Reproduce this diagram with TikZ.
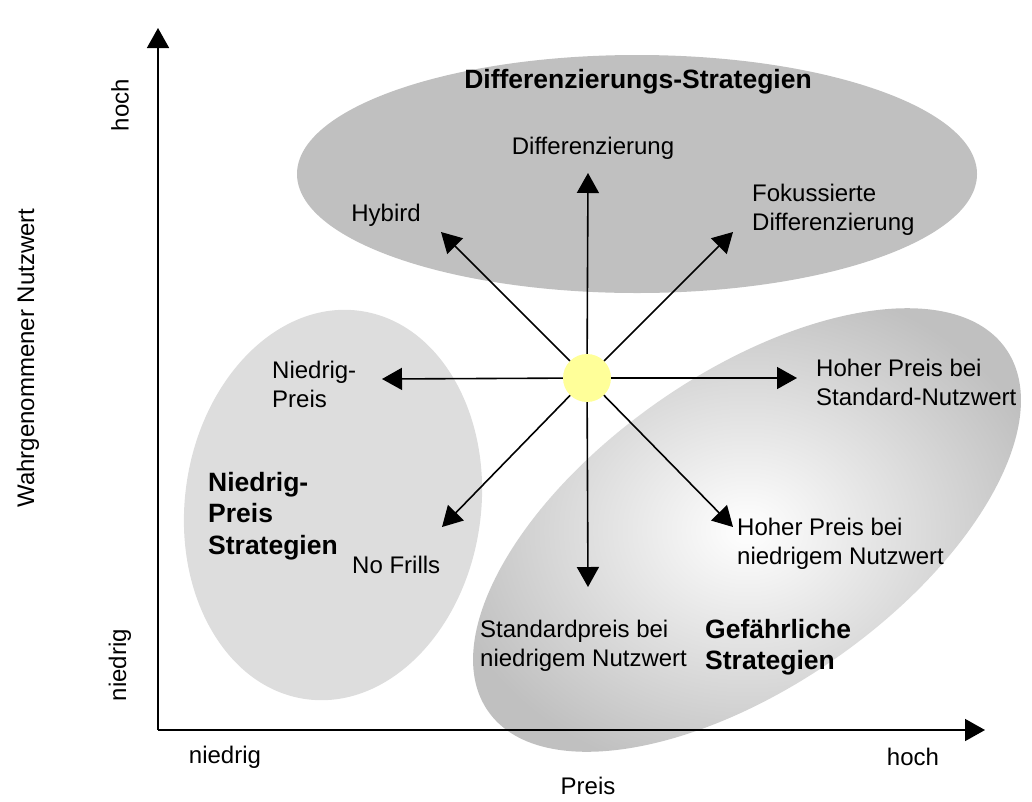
\documentclass[tikz,border=0pt]{standalone}
\usepackage{fontspec}
\setmainfont{Liberation Sans}
\usetikzlibrary{arrows.meta}
\definecolor{silber}{RGB}{192,192,192}
\definecolor{hellgrau}{RGB}{221,221,221}
\definecolor{sonne}{RGB}{255,255,153}
\tikzset{
  pfeil/.style={line width=1.6pt,-{Triangle[length=20pt,width=22pt]}},
  txt/.style={inner sep=0pt,font=\fontsize{24}{29}\selectfont},
  fett/.style={inner sep=0pt,font=\fontsize{26.5}{31.5}\selectfont\bfseries}
}
\begin{document}
\begin{tikzpicture}[x=1pt,y=-1pt]
\useasboundingbox (0,0) rectangle (1032,801);
% Bereiche
\fill[silber] (637,174) ellipse (340 and 119);
\begin{scope}[shift={(333,505)},rotate=-8]
\fill[hellgrau] (0,0) ellipse (148 and 196);
\end{scope}
\begin{scope}[shift={(747,530)},rotate=35]
\shade[inner color=white,outer color=silber] (0,0) ellipse (316 and 156);
\end{scope}
% Achsen
\coordinate (o) at (158,730);
\coordinate (ytop) at (158,28);
\coordinate (xend) at (985,730);
\draw[pfeil] (o) -- (ytop);
\draw[pfeil] (o) -- (xend);
% Stern
\node[circle,fill=sonne,minimum size=48pt,inner sep=0pt] (sun) at (587,378) {};
\foreach \n/\x/\y in {n/588/173,nw/441/232,ne/733/232,w/382/379,e/797/378,s/588/587,sw/442/527,se/733/527}
  \coordinate (\n) at (\x,\y);
\foreach \n in {n,nw,ne,w,e,s,sw,se}
  \draw[pfeil] (sun) -- (\n);
% Texte
\node[fett] (diffs) at (638,82) {Differenzierungs-Strategien};
\node[txt] (diff) at (593,148) {Differenzierung};
\node[txt] (hyb) at (386,215) {Hybird};
\node[txt,anchor=west,align=left] (fok) at (752,210) {Fokussierte\\Differenzierung};
\node[txt,anchor=west,align=left] (np) at (272,384) {Niedrig-\\Preis};
\node[txt,anchor=west,align=left] (hps) at (816,382) {Hoher Preis bei\\Standard-Nutzwert};
\node[fett,anchor=west,align=left] (nps) at (208,516) {Niedrig-\\Preis\\Strategien};
\node[txt,anchor=west] (nf) at (352,565) {No Frills};
\node[txt,anchor=west,align=left] (hpn) at (737,544) {Hoher Preis bei\\niedrigem Nutzwert};
\node[txt,anchor=west,align=left] (spn) at (480,646) {Standardpreis bei\\niedrigem Nutzwert};
\node[fett,anchor=west,align=left] (gs) at (705,647) {Gefährliche\\Strategien};
% Achsenbeschriftung
\node[txt,rotate=90] (yhoch) at (120,105) {hoch};
\node[txt,rotate=90] (yniedrig) at (120,665) {niedrig};
\node[txt,rotate=90] (ylab) at (28,358) {Wahrgenommener Nutzwert};
\node[txt] (xniedrig) at (225,757) {niedrig};
\node[txt] (xhoch) at (913,757) {hoch};
\node[txt] (xlab) at (588,786) {Preis};
\end{tikzpicture}
\end{document}
